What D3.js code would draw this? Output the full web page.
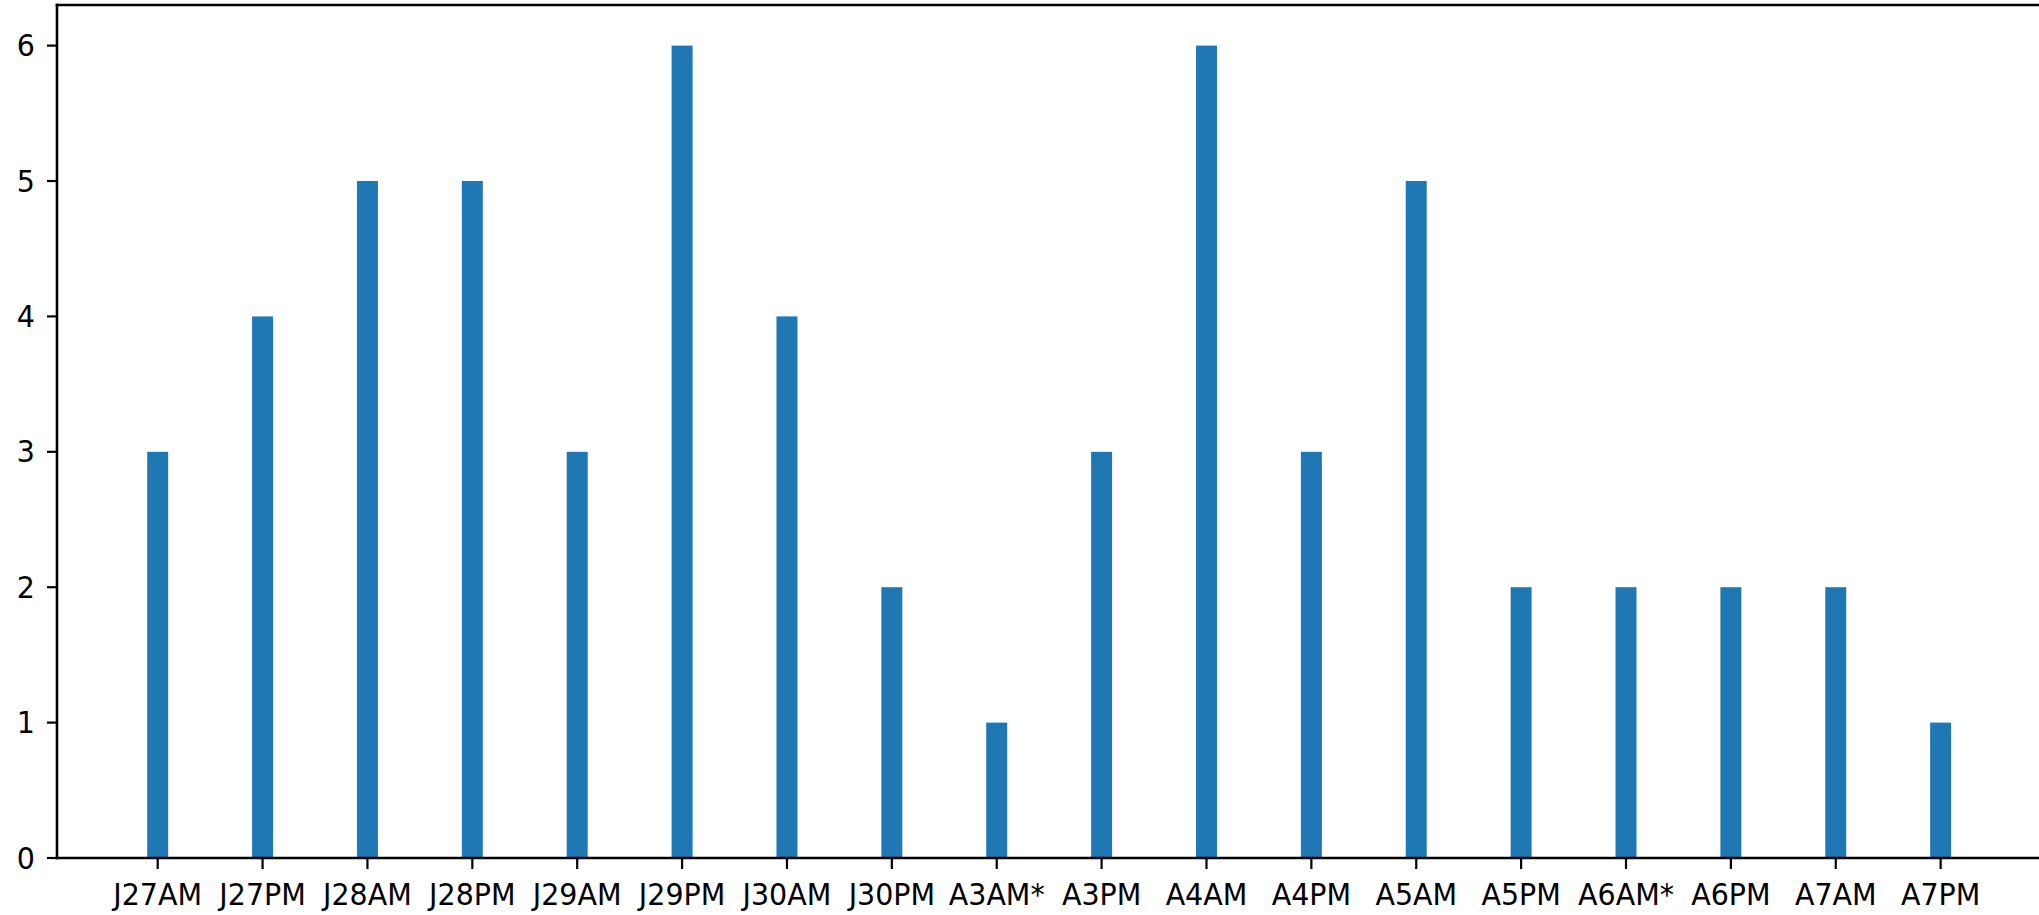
<!DOCTYPE html>
<html>
<head>
<meta charset="utf-8">
<script src="https://cdn.jsdelivr.net/npm/d3@7"></script>
<style>
  body { margin: 0; background: #fff; }
  svg { display: block; }
  text { font-family: "DejaVu Sans", sans-serif; fill: #000; }
</style>
</head>
<body>
<svg id="canvas" width="2039" height="915"></svg>
<script>
// data
const categories = ["J27AM", "J27PM", "J28AM", "J28PM", "J29AM", "J29PM", "J30AM", "J30PM", "A3AM*",
                    "A3PM", "A4AM", "A4PM", "A5AM", "A5PM", "A6AM*", "A6PM", "A7AM", "A7PM"];
const counts = [3, 4, 5, 5, 3, 6, 4, 2, 1, 3, 6, 3, 5, 2, 2, 2, 2, 1];
const yTicks = [0, 1, 2, 3, 4, 5, 6];

const svg = d3.select("#canvas");
const plotLeft = 57, plotTop = 5, plotBottom = 858;
const step = 104.88; // px between category centres
const barWidth = 0.2; // in category units, like matplotlib width=0.2

// linear x scale over index, with matplotlib style margins
var xScale = d3.scaleLinear().domain([-0.96, 17.96]).range([plotLeft, plotLeft + 18.92 * step]);
var yScale = d3.scaleLinear().domain([0, 6.3]).range([plotBottom, plotTop]);

// bars
svg.append("g").selectAll("rect")
    .data(counts)
    .enter()
    .append("rect")
    .attr("x", (d, i) => xScale(i - barWidth / 2))
    .attr("width", (d, i) => xScale(i + barWidth / 2) - xScale(i - barWidth / 2))
    .attr("y", d => yScale(d))
    .attr("height", d => yScale(0) - yScale(d))
    .attr("fill", "#1f77b4");

// spines (left, top, bottom; right is off the page)
const spines = svg.append("g").attr("stroke", "#000").attr("stroke-width", 2.6).attr("fill", "none");
spines.append("line").attr("x1", plotLeft).attr("x2", plotLeft).attr("y1", plotTop - 1.3).attr("y2", plotBottom + 1.3);
spines.append("line").attr("x1", plotLeft - 1.3).attr("x2", 2039).attr("y1", plotTop).attr("y2", plotTop);
spines.append("line").attr("x1", plotLeft - 1.3).attr("x2", 2039).attr("y1", plotBottom).attr("y2", plotBottom);

// y axis ticks
const yAxis = svg.append("g");
yAxis.selectAll("line")
    .data(yTicks)
    .enter()
    .append("line")
    .attr("x1", plotLeft - 10).attr("x2", plotLeft)
    .attr("y1", d => yScale(d)).attr("y2", d => yScale(d))
    .attr("stroke", "#000").attr("stroke-width", 2.2);
yAxis.selectAll("text")
    .data(yTicks)
    .enter()
    .append("text")
    .attr("text-anchor", "end")
    .attr("transform", d => `translate(${plotLeft - 22}, ${yScale(d) + 10.5}) scale(1, 1.05)`)
    .style("font-size", "28.5px")
    .text(d => d);

// x axis ticks
const xAxis = svg.append("g");
xAxis.selectAll("line")
    .data(categories)
    .enter()
    .append("line")
    .attr("x1", (d, i) => xScale(i)).attr("x2", (d, i) => xScale(i))
    .attr("y1", plotBottom).attr("y2", plotBottom + 11)
    .attr("stroke", "#000").attr("stroke-width", 2.2);
xAxis.selectAll("text")
    .data(categories)
    .enter()
    .append("text")
    .attr("text-anchor", "middle")
    .attr("transform", (d, i) => `translate(${xScale(i)}, 905) scale(1, 1.05)`)
    .style("font-size", "28.5px")
    .text(d => d);
</script>
</body>
</html>
